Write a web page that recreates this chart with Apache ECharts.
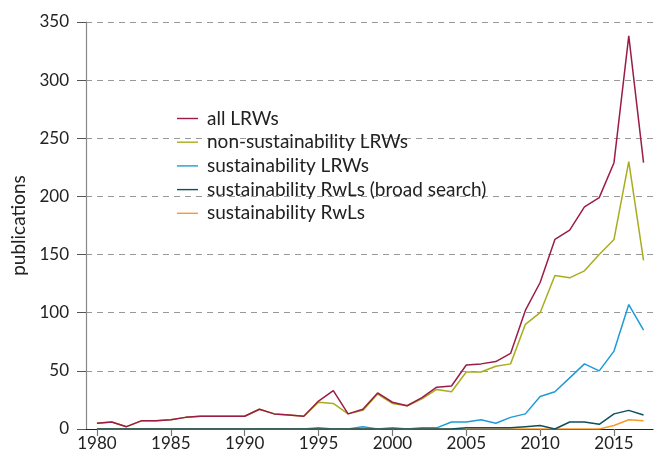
<!DOCTYPE html>
<html>
<head>
<meta charset="utf-8">
<script src="https://cdn.jsdelivr.net/npm/echarts@6/dist/echarts.min.js"></script>
<style>
  html, body { margin: 0; padding: 0; background: #fff; }
  #chart { width: 654px; height: 461px; }
</style>
</head>
<body>
<div id="chart"></div>
<script>
// publications per year, 1980-2017
var years = [];
for (var y = 1980; y <= 2017; y++) years.push(y);

var allLRWs = [5, 6, 2, 7, 7, 8, 10, 11, 11, 11, 11, 17, 13, 12, 11, 24, 33, 13, 17, 31,
  23, 20, 27, 36, 37, 55, 56, 58, 65, 102, 126, 163, 171, 191, 199, 229, 338, 229];
var nonSustLRWs = [5, 6, 2, 7, 7, 8, 10, 11, 11, 11, 11, 17, 13, 12, 11, 23, 22, 13, 16, 30,
  22, 20, 26, 34, 32, 49, 49, 54, 56, 90, 100, 132, 130, 136, 150, 163, 230, 145];
var sustLRWs = [0, 0, 0, 0, 0, 0, 0, 0, 0, 0, 0, 0, 0, 0, 0, 1, 0, 0, 2, 0,
  1, 0, 1, 1, 6, 6, 8, 5, 10, 13, 28, 32, 44, 56, 50, 67, 107, 85];
var sustRwLsBroad = [0, 0, 0, 0, 0, 0, 0, 0, 0, 0, 0, 0, 0, 0, 0, 0, 0, 0, 0, 0,
  0, 0, 0, 0, 0, 1, 1, 1, 1, 2, 3, 0, 6, 6, 4, 13, 16, 12];
var sustRwLs = [0, 0, 0, 0, 0, 0, 0, 0, 0, 0, 0, 0, 0, 0, 0, 0, 0, 0, 0, 0,
  0, 0, 0, 0, 0, 0, 0, 0, 0, 0, 0, 0, 0, 0, 0, 3, 8, 7];

var xTicks = [1980, 1985, 1990, 1995, 2000, 2005, 2010, 2015];
var seriesNames = ['all LRWs', 'non-sustainability LRWs', 'sustainability LRWs',
  'sustainability RwLs (broad search)', 'sustainability RwLs'];
var seriesColors = ['#9b1c45', '#a8ad1e', '#1e9bd7', '#0e4f5c', '#f59a2c'];

function pairs(vals) {
  var out = [];
  for (var i = 0; i < years.length; i++) out.push([years[i], vals[i]]);
  return out;
}

var font = 'Lato';
var chart = echarts.init(document.getElementById('chart'), null, { renderer: 'canvas' });

var seriesData = [allLRWs, nonSustLRWs, sustLRWs, sustRwLsBroad, sustRwLs];
var zs = [5, 4, 3, 6, 5];
var series = [];
for (var i = 0; i < seriesNames.length; i++) {
  series.push({
    name: seriesNames[i],
    type: 'line',
    symbol: 'none',
    z: zs[i],
    lineStyle: { width: 1.5, color: seriesColors[i] },
    itemStyle: { color: seriesColors[i] },
    data: pairs(seriesData[i])
  });
}

var option = {
  animation: false,
  textStyle: { fontFamily: font },
  grid: { left: 86, right: 1, top: 22, bottom: 32, containLabel: false },
  legend: {
    orient: 'vertical',
    left: 172,
    top: 104,
    itemWidth: 21,
    itemHeight: 10,
    itemGap: 4.7,
    icon: 'path://M0,4.3 L21,4.3 L21,5.7 L0,5.7 Z',
    textStyle: { fontFamily: font, fontSize: 19, color: '#222', padding: [0, 0, 0, 4] },
    data: seriesNames
  },
  xAxis: {
    type: 'value',
    min: 1979.26,
    max: 2017.64,
    axisLine: { onZero: false, lineStyle: { color: '#222', width: 1.2 } },
    axisTick: { show: true, length: 7, customValues: xTicks, lineStyle: { color: '#777', width: 1.2 } },
    axisLabel: {
      customValues: xTicks,
      fontFamily: font, fontSize: 17, color: '#222', margin: 6,
      formatter: function (v) { return String(v); }
    },
    splitLine: { show: false }
  },
  yAxis: {
    type: 'value',
    min: 0,
    max: 350,
    interval: 50,
    name: 'publications',
    nameLocation: 'middle',
    nameGap: 56,
    nameRotate: 90,
    nameTextStyle: { fontFamily: font, fontSize: 19, color: '#222' },
    axisLine: { show: true, lineStyle: { color: '#888', width: 1.2 } },
    axisTick: { show: true, length: 9, lineStyle: { color: '#555', width: 1 } },
    axisLabel: { fontFamily: font, fontSize: 17, color: '#222', margin: 17 },
    splitLine: { show: true, lineStyle: { color: '#999', type: [6, 5], width: 1 } }
  },
  series: series
};

chart.setOption(option);
</script>
</body>
</html>
